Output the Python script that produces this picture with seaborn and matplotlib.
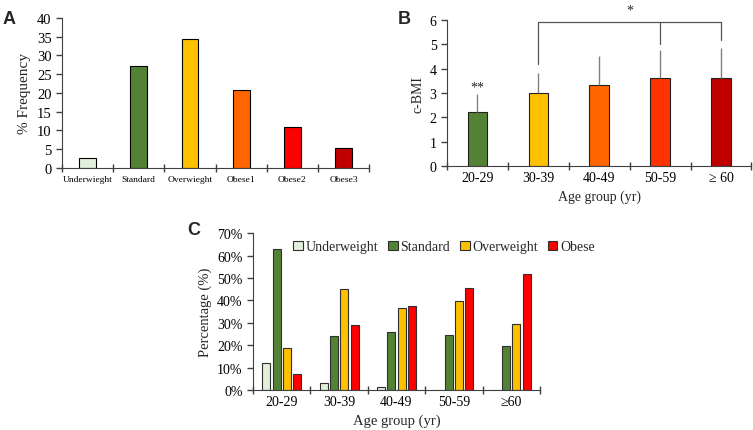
import numpy as np
import pandas as pd
import matplotlib
matplotlib.use("Agg")
import matplotlib.pyplot as plt
import seaborn as sns

# panel A - BMI class frequency
a_cats = ["Underwieght", "Standard", "Overwieght", "Obese1", "Obese2", "Obese3"]
a_vals = [2.7, 27.1, 34.3, 20.8, 10.9, 5.2]
a_cols = ["#e2efda", "#548235", "#ffc000", "#ff6600", "#ff0000", "#c00000"]

# panel B - c-BMI by age group
b_cats = ["20-29", "30-39", "40-49", "50-59", "\u2265 60"]
b_vals = [2.21, 3.00, 3.33, 3.60, 3.64]
b_err = [0.74, 0.82, 1.20, 1.16, 1.20]
b_cols = ["#548235", "#ffc000", "#ff6600", "#ff3300", "#c00000"]

# panel C - class share within age group
c_groups = ["20-29", "30-39", "40-49", "50-59", "\u226560"]
c_classes = ["Underweight", "Standard", "Overweight", "Obese"]
c_under = [12.2, 3.0, 1.2, 0, 0]
c_stand = [62.9, 24.0, 25.8, 24.7, 19.7]
c_over = [18.9, 45.2, 36.5, 39.9, 29.4]
c_obese = [7.0, 29.2, 37.4, 45.3, 51.6]
c_cols = ["#e2efda", "#548235", "#ffc000", "#ff0000"]

sns.set_style("ticks")
plt.rcParams["font.family"] = ["Liberation Serif", "DejaVu Serif"]
plt.rcParams["axes.edgecolor"] = "#404040"
plt.rcParams["xtick.color"] = "#404040"
plt.rcParams["ytick.color"] = "#404040"
plt.rcParams["xtick.labelcolor"] = "black"
plt.rcParams["ytick.labelcolor"] = "black"

fig = plt.figure(figsize=(7.53, 4.31), dpi=100)

def boundary_ticks(ax, n):
    ax.set_xlim(-0.5, n - 0.5)
    ax.set_xticks(np.arange(-0.5, n, 1.0), minor=True)
    ax.tick_params(axis="x", which="minor", length=6, direction="inout", width=1)
    ax.tick_params(axis="x", which="major", length=0)
    ax.tick_params(axis="y", length=4, direction="out", width=1)
    sns.despine(ax=ax)

# ---- A ----
axA = fig.add_axes([0.0823, 0.608, 0.408, 0.348])
dfA = pd.DataFrame({"cat": a_cats, "val": a_vals})
sns.barplot(data=dfA, x="cat", y="val", hue="cat", palette=a_cols, width=0.33,
            saturation=1, edgecolor="black", linewidth=0.8, legend=False, ax=axA)
axA.set_ylim(0, 40)
axA.set_yticks(range(0, 41, 5))
axA.set_xlabel("")
axA.set_ylabel("% Frequency", fontsize=11)
boundary_ticks(axA, len(a_cats))
axA.tick_params(axis="x", labelsize=6.8, pad=5)
axA.tick_params(axis="y", labelsize=10.5)
fig.text(0.003, 0.975, "A", fontsize=13, fontweight="bold", family="Liberation Sans", va="top")

# ---- B ----
axB = fig.add_axes([0.5936, 0.6125, 0.4044, 0.3385])
dfB = pd.DataFrame({"age": b_cats, "bmi": b_vals})
sns.barplot(data=dfB, x="age", y="bmi", hue="age", palette=b_cols, width=0.32,
            saturation=1, edgecolor="#202020", linewidth=0.8, legend=False, ax=axB)
axB.errorbar(range(len(b_cats)), b_vals, yerr=[[0] * len(b_err), b_err], fmt="none",
             ecolor="#808080", elinewidth=1, capsize=0, zorder=1)
axB.set_ylim(0, 6)
axB.set_yticks(range(0, 7))
axB.set_xlabel("Age group (yr)", fontsize=10)
axB.set_ylabel("c-BMI", fontsize=10)
boundary_ticks(axB, len(b_cats))
axB.tick_params(axis="both", labelsize=10)
axB.text(0, 3.12, "**", ha="center", fontsize=10)
axB.plot([1, 1, 4, 4], [4.2, 5.92, 5.92, 5.18], color="#555555", lw=0.9, clip_on=False)
axB.plot([3, 3], [5.92, 5.0], color="#555555", lw=0.9, clip_on=False)
axB.text(2.5, 6.25, "*", ha="center", fontsize=10, clip_on=False)
fig.text(0.528, 0.975, "B", fontsize=13, fontweight="bold", family="Liberation Sans", va="top")

# ---- C ----
axC = fig.add_axes([0.336, 0.0928, 0.381, 0.364])
dfC = pd.DataFrame({
    "age": np.repeat(c_groups, len(c_classes)),
    "cls": c_classes * len(c_groups),
    "pct": np.column_stack([c_under, c_stand, c_over, c_obese]).ravel(),
})
sns.barplot(data=dfC, x="age", y="pct", hue="cls", hue_order=c_classes, palette=c_cols,
            width=0.72, gap=0.22, saturation=1, edgecolor="#303030", linewidth=0.8, ax=axC)
axC.set_ylim(0, 70)
axC.set_yticks(range(0, 71, 10))
axC.set_yticklabels([f"{v}%" for v in range(0, 71, 10)])
axC.set_xlabel("Age group (yr)", fontsize=10.5)
axC.set_ylabel("Percentage (%)", fontsize=10.5)
boundary_ticks(axC, len(c_groups))
axC.tick_params(axis="both", labelsize=10)
axC.legend(loc="upper left", bbox_to_anchor=(0.12, 0.99), ncol=4, frameon=False,
           fontsize=10, handlelength=0.7, handleheight=0.7, handletextpad=0.2,
           columnspacing=0.7, borderaxespad=0)
fig.text(0.249, 0.485, "C", fontsize=13, fontweight="bold", family="Liberation Sans", va="top")

fig.savefig("out.png", dpi=100)
